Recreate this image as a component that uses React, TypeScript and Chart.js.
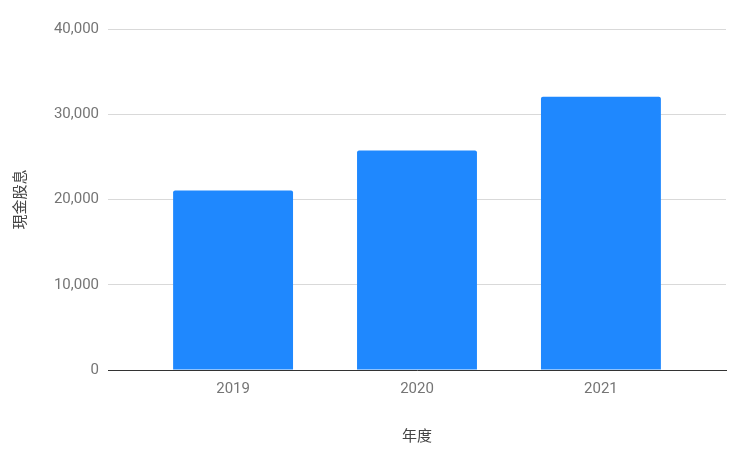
import { useEffect, useRef } from "react";
import { Chart, registerables } from "chart.js";

Chart.register(...registerables);

const years = ["2019", "2020", "2021"];
const cashDividends = [21050, 25750, 32050];
const yTicks = [0, 10000, 20000, 30000, 40000];

const FONT = "Roboto, 'Noto Sans CJK TC', sans-serif";

export default function App() {
  const canvasRef = useRef<HTMLCanvasElement>(null);
  const chartRef = useRef<Chart | null>(null);

  useEffect(() => {
    if (!canvasRef.current) return;
    chartRef.current?.destroy();

    // linear x axis so the outer gaps can be wider than half a category
    const points = cashDividends.map((y, i) => ({ x: i, y }));

    chartRef.current = new Chart(canvasRef.current, {
      type: "bar",
      data: {
        datasets: [
          {
            label: "現金股息",
            data: points,
            backgroundColor: "#1f88fe",
            borderRadius: 2,
            borderSkipped: "bottom",
            barPercentage: 0.652,
            categoryPercentage: 1,
          },
        ],
      },
      options: {
        animation: false,
        responsive: true,
        maintainAspectRatio: false,
        layout: { padding: { top: 29, right: 14, bottom: 8, left: 0 } },
        plugins: {
          legend: { display: false },
          tooltip: { enabled: false },
        },
        scales: {
          x: {
            type: "linear",
            min: -0.68,
            max: 2.68,
            offset: false,
            afterBuildTicks: (scale) => {
              scale.ticks = years.map((_, i) => ({ value: i }));
            },
            grid: { display: false, drawTicks: false },
            border: { display: true, color: "#333333", width: 1 },
            ticks: {
              color: "#757575",
              font: { family: FONT, size: 15 },
              padding: 10,
              callback: (v) => years[Number(v)] ?? "",
            },
            title: {
              display: true,
              text: "年度",
              color: "#444444",
              font: { family: FONT, size: 15 },
              padding: { top: 0, bottom: 0 },
            },
            afterFit: (scale) => {
              scale.height = 454 - 370 - 8;
            },
          },
          y: {
            min: 0,
            max: 40000,
            afterBuildTicks: (scale) => {
              scale.ticks = yTicks.map((v) => ({ value: v }));
            },
            grid: {
              color: "#d9d9d9",
              drawTicks: false,
            },
            border: { display: false },
            ticks: {
              color: "#757575",
              font: { family: FONT, size: 15 },
              padding: 9,
              callback: (v) => Number(v).toLocaleString("en-US"),
            },
            title: {
              display: true,
              text: "現金股息",
              color: "#444444",
              font: { family: FONT, size: 15 },
              padding: { top: 12, bottom: 0 },
            },
            afterFit: (scale) => {
              scale.width = 108;
            },
          },
        },
      },
    });

    return () => {
      chartRef.current?.destroy();
      chartRef.current = null;
    };
  }, []);

  return (
    <div
      style={{
        position: "absolute",
        left: 0,
        top: 0,
        width: 740,
        height: 454,
        background: "#ffffff",
      }}
    >
      <canvas ref={canvasRef} />
    </div>
  );
}
